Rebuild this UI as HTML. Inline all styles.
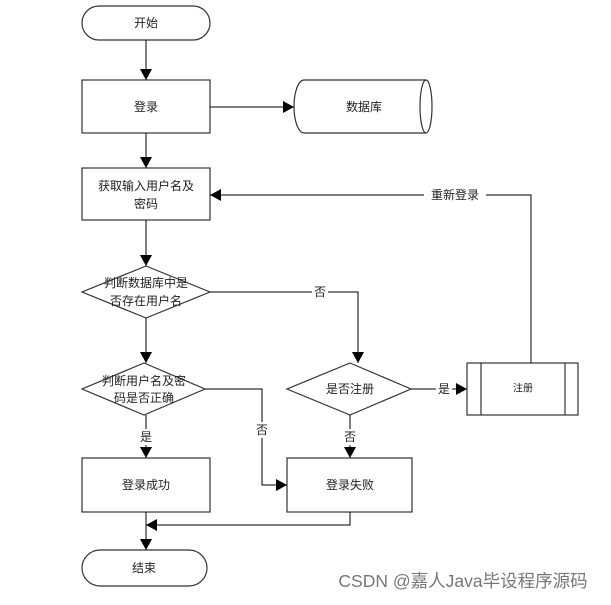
<!DOCTYPE html>
<html><head><meta charset="utf-8"><style>
body{margin:0;background:#fff;}
svg text{font-family:"Liberation Sans","Noto Sans CJK SC",sans-serif;font-size:12px;fill:#222;text-anchor:middle;dominant-baseline:central;}
</style></head><body>
<svg width="611" height="600" viewBox="0 0 611 600" xmlns="http://www.w3.org/2000/svg">
<defs><marker id="a" markerWidth="12" markerHeight="12" refX="11" refY="6" orient="auto" markerUnits="userSpaceOnUse"><path d="M0,0 L11,6 L0,12 z" fill="#000"/></marker></defs>
<g fill="none" stroke="#333" stroke-width="1.2">
<rect x="82" y="6" width="128" height="34" rx="17" fill="#fff"/>
<rect x="82" y="80" width="128" height="53" fill="#fff"/>
<path d="M304,80 L426,80 A6,26.5 0 0 1 426,133 L304,133 A10,26.5 0 0 1 304,80 Z" fill="#fff"/>
<path d="M426,80 A6,26.5 0 0 0 426,133"/>
<rect x="82" y="168" width="128" height="52" fill="#fff"/>
<polygon points="146,266 210,292 146,318 82,292" fill="#fff"/>
<polygon points="144,363 205,389 144,415 82,389" fill="#fff"/>
<polygon points="350,363 411,389 350,415 287,389" fill="#fff"/>
<rect x="467" y="363" width="111" height="52" fill="#fff"/>
<line x1="481" y1="363" x2="481" y2="415"/><line x1="565" y1="363" x2="565" y2="415"/>
<rect x="82" y="458" width="128" height="54" fill="#fff"/>
<rect x="287" y="458" width="125" height="54" fill="#fff"/>
<rect x="82" y="550" width="125" height="36" rx="18" fill="#fff"/>
</g>
<g fill="none" stroke="#000" stroke-width="1">
<line x1="146" y1="40" x2="146" y2="80" marker-end="url(#a)"/>
<line x1="210" y1="107" x2="294" y2="107" marker-end="url(#a)"/>
<line x1="146" y1="133" x2="146" y2="168" marker-end="url(#a)"/>
<line x1="146" y1="220" x2="146" y2="266" marker-end="url(#a)"/>
<line x1="146" y1="318" x2="146" y2="363" marker-end="url(#a)"/>
<polyline points="210,292 358,292 358,363" marker-end="url(#a)"/>
<polyline points="205,389 262,389 262,485 287,485" marker-end="url(#a)"/>
<line x1="146" y1="415" x2="146" y2="458" marker-end="url(#a)"/>
<line x1="350" y1="415" x2="350" y2="458" marker-end="url(#a)"/>
<line x1="411" y1="389" x2="467" y2="389" marker-end="url(#a)"/>
<polyline points="531,363 531,195 210,195" marker-end="url(#a)"/>
<polyline points="350,512 350,525 146,525" marker-end="url(#a)"/>
<line x1="146" y1="512" x2="146" y2="550" marker-end="url(#a)"/>
</g>
<g>
<rect x="424" y="187" width="62" height="16" fill="#fff"/>
<rect x="312" y="284" width="16" height="16" fill="#fff"/>
<rect x="254" y="422" width="16" height="16" fill="#fff"/>
<rect x="138" y="429" width="16" height="16" fill="#fff"/>
<rect x="342" y="429" width="16" height="16" fill="#fff"/>
<rect x="436" y="381" width="16" height="16" fill="#fff"/>
</g>
<text x="146" y="23">开始</text>
<text x="146" y="107">登录</text>
<text x="364" y="107">数据库</text>
<text x="146" y="186">获取输入用户名及</text>
<text x="146" y="204">密码</text>
<text x="146" y="283">判断数据库中是</text>
<text x="146" y="301">否存在用户名</text>
<text x="144" y="381">判断用户名及密</text>
<text x="144" y="398">码是否正确</text>
<text x="350" y="389">是否注册</text>
<text x="523" y="389" style="font-size:10px">注册</text>
<text x="146" y="485">登录成功</text>
<text x="350" y="485">登录失败</text>
<text x="144" y="568">结束</text>
<text x="455" y="195">重新登录</text>
<text x="320" y="292">否</text>
<text x="262" y="430">否</text>
<text x="146" y="437">是</text>
<text x="350" y="437">否</text>
<text x="444" y="389">是</text>
<text x="463" y="581" style="font-size:17.5px;fill:#777">CSDN @嘉人Java毕设程序源码</text>
</svg>
</body></html>
